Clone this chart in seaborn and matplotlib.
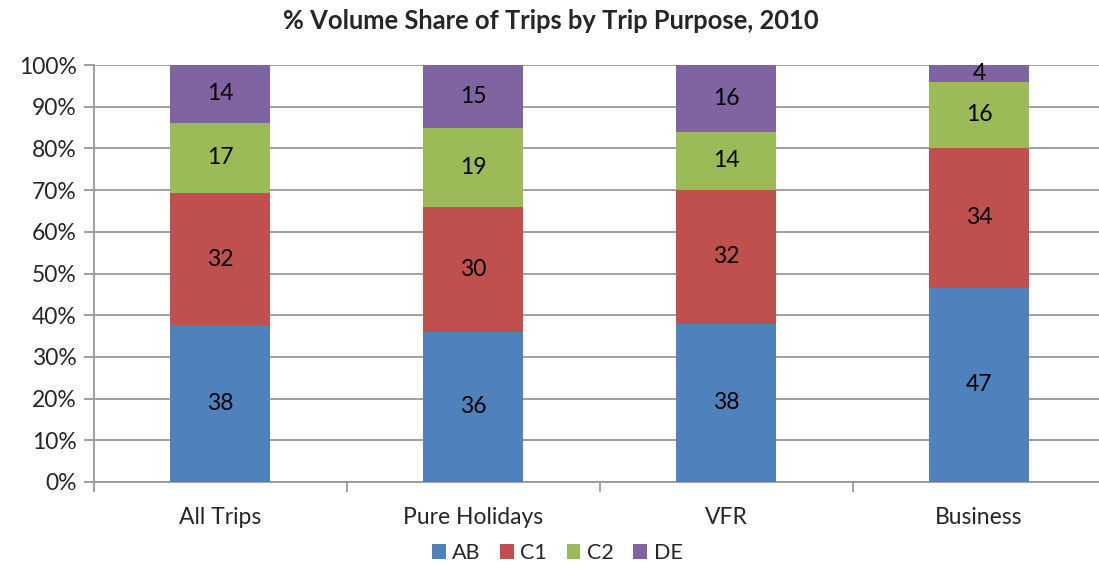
import numpy as np
import pandas as pd
import matplotlib
matplotlib.use("Agg")
import matplotlib.pyplot as plt
from matplotlib.patches import Patch
import seaborn as sns

categories = ["All Trips", "Pure Holidays", "VFR", "Business"]
series_names = ["AB", "C1", "C2", "DE"]
ab = [38, 36, 38, 47]
c1 = [32, 30, 32, 34]
c2 = [17, 19, 14, 16]
de = [14, 15, 16, 4]
colors = ["#4F81BD", "#C0504D", "#9BBB59", "#8064A2"]
yticks = [0, 10, 20, 30, 40, 50, 60, 70, 80, 90, 100]

sns.set_theme(style="white")
plt.rcParams["font.family"] = ["Lato", "DejaVu Sans"]

vals = np.array([ab, c1, c2, de], dtype=float)
share = vals / vals.sum(axis=0) * 100
cum = np.cumsum(share, axis=0)

W, H = 1099, 568
left, right = 93.5, 1105.5
fig = plt.figure(figsize=(W / 100, H / 100), dpi=100)
ax = fig.add_axes([left / W, 1 - 482 / H, (right - left) / W, (482 - 65) / H])

for i in range(3, -1, -1):
    df = pd.DataFrame({"cat": categories, "val": cum[i]})
    sns.barplot(data=df, x="cat", y="val", order=categories, color=colors[i],
                width=0.395, saturation=1, ax=ax, zorder=3, edgecolor="none", linewidth=0)

for i in range(4):
    for j in range(4):
        center = cum[i, j] - share[i, j] / 2
        ax.text(j, center, f"{int(vals[i, j])}", ha="center", va="center",
                fontsize=16.5, color="black", zorder=4)

ax.set_xlim(-0.5, 3.5)
ax.set_ylim(0, 100)
ax.set_yticks(yticks)
ax.set_yticklabels([f"{t}%" for t in yticks], fontsize=16.5)
ax.set_xticks(range(4))
ax.set_xticklabels(categories, fontsize=16.5)
ax.set_xlabel("")
ax.set_ylabel("")
ax.grid(axis="y", color="#999999", linewidth=1.3, zorder=0)
ax.set_axisbelow(True)
for s in ["top", "right"]:
    ax.spines[s].set_visible(False)
for s in ["left", "bottom"]:
    ax.spines[s].set_color("#999999")
    ax.spines[s].set_linewidth(1.3)
ax.tick_params(axis="y", which="major", left=True, length=7, color="#999999", width=1.3, pad=5)
ax.tick_params(axis="x", which="major", bottom=False, pad=12)
ax.set_xticks([-0.5, 0.5, 1.5, 2.5, 3.5], minor=True)
ax.tick_params(axis="x", which="minor", bottom=True, length=7, color="#999999", width=1.3)

fig.text(551 / W, 1 - 21 / H, "% Volume Share of Trips by Trip Purpose, 2010",
         ha="center", va="center", fontsize=18.4, fontweight="bold")

handles = [Patch(facecolor=c, edgecolor="none") for c in colors]
fig.legend(handles, series_names, loc="center", bbox_to_anchor=(557 / W, 1 - 553 / H),
           ncol=4, frameon=False, fontsize=15.5, handlelength=0.65, handleheight=0.65,
           handletextpad=0.3, columnspacing=0.9)

fig.savefig("out.png", dpi=100)
